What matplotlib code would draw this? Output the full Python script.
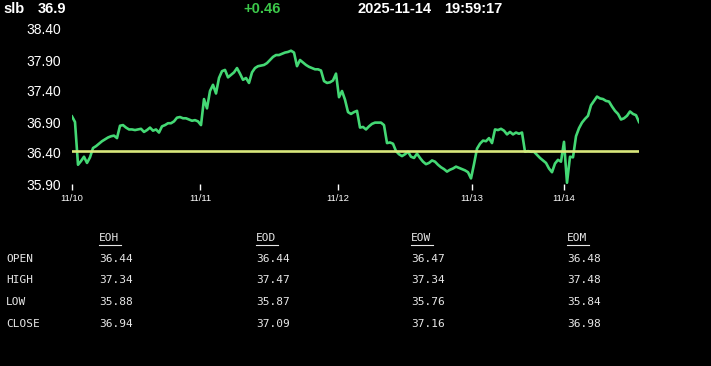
import numpy as np
import matplotlib
matplotlib.use('Agg')
import matplotlib.pyplot as plt
from matplotlib.lines import Line2D

symbol = 'slb'
last = 36.9
change = '+0.46'
stamp_date = '2025-11-14'
stamp_time = '19:59:17'
prev_close = 36.44

# intraday prices, 11/10 .. 11/14
prices = [
    36.99, 36.90, 36.21, 36.27, 36.34, 36.24, 36.33, 36.48, 36.51, 36.55,
    36.59, 36.62, 36.65, 36.67, 36.68, 36.64, 36.84, 36.85, 36.81, 36.78,
    36.78, 36.77, 36.78, 36.79, 36.74, 36.77, 36.81, 36.76, 36.78, 36.73,
    36.83, 36.85, 36.88, 36.88, 36.91, 36.97, 36.98, 36.96, 36.96, 36.94,
    36.92, 36.93, 36.91, 36.85, 37.27, 37.12, 37.40, 37.50, 37.36, 37.61,
    37.72, 37.74, 37.62, 37.66, 37.70, 37.77, 37.68, 37.58, 37.61, 37.53,
    37.70, 37.77, 37.80, 37.81, 37.82, 37.85, 37.90, 37.95, 37.98, 37.98,
    38.00, 38.02, 38.03, 38.05, 38.02, 37.80, 37.90, 37.86, 37.82, 37.79,
    37.77, 37.75, 37.75, 37.73, 37.56, 37.53, 37.54, 37.57, 37.68, 37.30,
    37.40, 37.26, 37.06, 37.03, 37.06, 37.08, 36.81, 36.82, 36.78, 36.83,
    36.87, 36.89, 36.89, 36.89, 36.85, 36.56, 36.57, 36.55, 36.43, 36.38,
    36.35, 36.38, 36.42, 36.34, 36.32, 36.39, 36.32, 36.26, 36.22, 36.24,
    36.28, 36.26, 36.21, 36.17, 36.14, 36.10, 36.13, 36.15, 36.18, 36.16,
    36.14, 36.12, 36.09, 35.99, 36.22, 36.47, 36.55, 36.60, 36.59, 36.64,
    36.56, 36.78, 36.77, 36.79, 36.76, 36.70, 36.74, 36.70, 36.73, 36.71,
    36.73, 36.42, 36.43, 36.42, 36.42, 36.37, 36.32, 36.28, 36.24, 36.15,
    36.09, 36.23, 36.29, 36.26, 36.58, 35.92, 36.34, 36.33, 36.67, 36.80,
    36.89, 36.95, 37.00, 37.17, 37.24, 37.31, 37.28, 37.27, 37.24, 37.23,
    37.15, 37.08, 37.03, 36.94, 36.96, 37.00, 37.07, 37.03, 37.01, 36.90,
]
day_idx = [0, 42.7, 88.7, 133.2, 164]
day_labels = ['11/10', '11/11', '11/12', '11/13', '11/14']
y_ticks = [35.90, 36.40, 36.90, 37.40, 37.90, 38.40]

# summary table
tbl_cols = ['EOH', 'EOD', 'EOW', 'EOM']
tbl_rows = ['OPEN', 'HIGH', 'LOW', 'CLOSE']
tbl_vals = [
    [36.44, 36.44, 36.47, 36.48],
    [37.34, 37.47, 37.34, 37.48],
    [35.88, 35.87, 35.76, 35.84],
    [36.94, 37.09, 37.16, 36.98],
]

W, H = 711, 366
fig = plt.figure(figsize=(W / 100, H / 100), dpi=100, facecolor='black')
ax = fig.add_axes([72 / W, 1 - 184 / H, (639 - 72) / W, 155 / H])
ax.set_facecolor('black')

x = np.arange(len(prices))
ax.plot(x, prices, color='#44d874', lw=1.9)
ax.axhline(prev_close, color='#d9e87c', lw=1.9)
ax.set_xlim(0, len(prices) - 1)
ax.set_ylim(35.90, 38.40)

for s in ax.spines.values():
    s.set_visible(False)
ax.set_yticks(y_ticks)
ax.set_yticklabels(['%.2f' % v for v in y_ticks])
ax.tick_params(axis='y', length=0, pad=8, colors='white', labelsize=10)
ax.set_xticks(day_idx)
ax.set_xticklabels(day_labels)
ax.tick_params(axis='x', length=4, width=1, color='white', colors='white', labelsize=6.8, pad=3)
for lbl in ax.get_xticklabels() + ax.get_yticklabels():
    lbl.set_fontfamily('Liberation Sans')

# header line
hdr = dict(color='white', fontsize=10.5, fontweight='bold', family='Liberation Sans', va='center')
fig.text(3 / W, 1 - 9 / H, symbol, **hdr)
fig.text(38 / W, 1 - 9 / H, str(last), **hdr)
fig.text(243 / W, 1 - 9 / H, change, **dict(hdr, color='#3cc84a'))
fig.text(358 / W, 1 - 9 / H, stamp_date, **hdr)
fig.text(444 / W, 1 - 9 / H, stamp_time, **hdr)

# table
mono = dict(color='#e8e8e8', fontsize=8, family='DejaVu Sans Mono', va='center')
col_x = [99, 256, 411, 567]
row_y = [259, 280, 302, 324]
for cx, name in zip(col_x, tbl_cols):
    fig.text(cx / W, 1 - 238 / H, name, **mono)
    fig.add_artist(Line2D([cx / W, (cx + 22) / W], [1 - 245 / H, 1 - 245 / H],
                          color='#e8e8e8', lw=0.8, transform=fig.transFigure))
for ry, name, vals in zip(row_y, tbl_rows, tbl_vals):
    fig.text(6 / W, 1 - ry / H, name, **mono)
    for cx, v in zip(col_x, vals):
        fig.text(cx / W, 1 - ry / H, '%.2f' % v, **mono)

fig.savefig('out.png', dpi=100, facecolor='black')
